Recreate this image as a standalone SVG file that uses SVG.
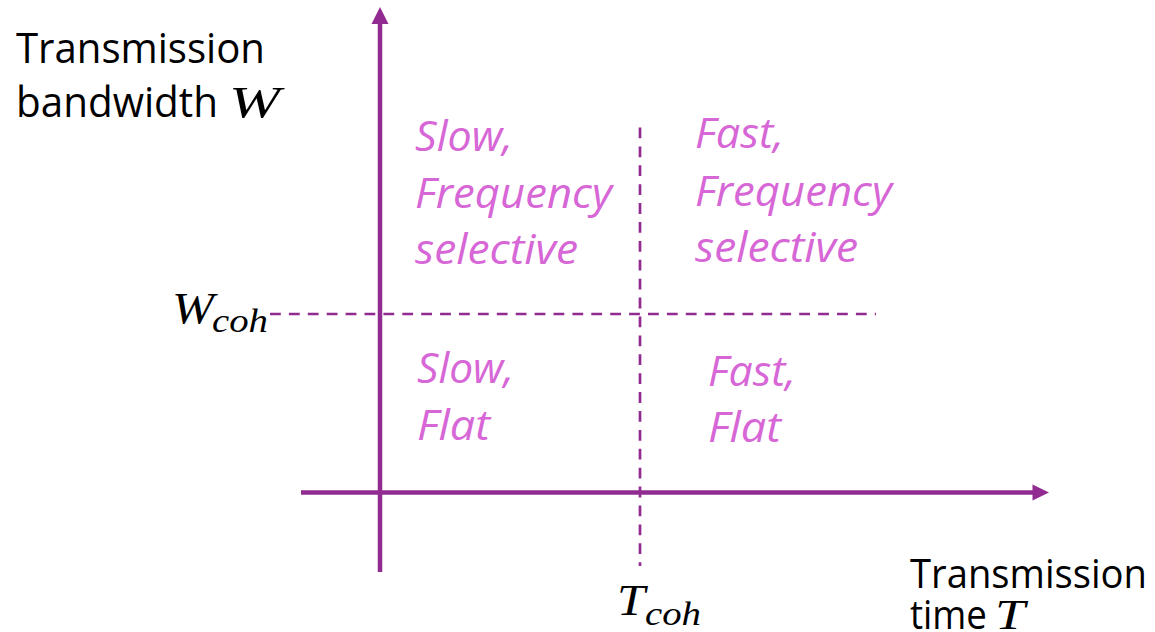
<svg xmlns="http://www.w3.org/2000/svg" width="1155" height="632" viewBox="0 0 1155 632">
<style>
.lbl{font-family:"Open Sans","Liberation Sans",sans-serif;fill:#000;}
.q{font-family:"Open Sans","Liberation Sans",sans-serif;font-style:italic;fill:#D766D6;font-size:42px;}
.m{font-family:"Liberation Serif","DejaVu Serif",serif;font-style:italic;fill:#000;}
.axis{stroke:#922B91;stroke-width:4.5;fill:none;}
.dash{stroke:#922B91;stroke-width:2.7;fill:none;stroke-dasharray:10.8 8.1;}
.head{fill:#922B91;}
</style>
<rect width="1155" height="632" fill="#fff"/>
<g id="connectors">
  <line class="dash" x1="270" y1="314" x2="876" y2="314"/>
  <line class="dash" x1="640" y1="127.5" x2="640" y2="566"/>
  <line class="axis" x1="380" y1="572" x2="380" y2="20"/>
  <polygon class="head" points="380,7 388.5,24 371.5,24"/>
  <line class="axis" x1="301" y1="492.5" x2="1036" y2="492.5"/>
  <polygon class="head" points="1049,492.5 1032.5,484.5 1032.5,500.5"/>
</g>
<g id="y-axis-label">
  <text class="lbl" x="16" y="63" font-size="42" textLength="249" lengthAdjust="spacingAndGlyphs">Transmission</text>
  <text class="lbl" x="16" y="117" font-size="42" textLength="202" lengthAdjust="spacingAndGlyphs">bandwidth</text>
  <text class="m" x="229" y="117" font-size="44" textLength="51" lengthAdjust="spacingAndGlyphs">W</text>
</g>
<g id="x-axis-label">
  <text class="lbl" x="910" y="588" font-size="40" textLength="237" lengthAdjust="spacingAndGlyphs">Transmission</text>
  <text class="lbl" x="910" y="629" font-size="40" textLength="77" lengthAdjust="spacingAndGlyphs">time</text>
  <text class="m" x="995" y="629" font-size="42" textLength="30" lengthAdjust="spacingAndGlyphs">T</text>
</g>
<g id="w-coh">
  <text class="m" x="172" y="323" font-size="44" textLength="42" lengthAdjust="spacingAndGlyphs">W</text>
  <text class="m" x="212" y="332" font-size="34" textLength="56" lengthAdjust="spacingAndGlyphs">coh</text>
</g>
<g id="t-coh">
  <text class="m" x="617" y="615" font-size="44" textLength="28" lengthAdjust="spacingAndGlyphs">T</text>
  <text class="m" x="645" y="625" font-size="34" textLength="56" lengthAdjust="spacingAndGlyphs">coh</text>
</g>
<g id="slow-selective">
  <text class="q" x="415" y="151" textLength="98" lengthAdjust="spacingAndGlyphs">Slow,</text>
  <text class="q" x="415" y="208" textLength="197" lengthAdjust="spacingAndGlyphs">Frequency</text>
  <text class="q" x="415" y="264" textLength="163" lengthAdjust="spacingAndGlyphs">selective</text>
</g>
<g id="fast-selective">
  <text class="q" x="695" y="148" textLength="89" lengthAdjust="spacingAndGlyphs">Fast,</text>
  <text class="q" x="695" y="206" textLength="197" lengthAdjust="spacingAndGlyphs">Frequency</text>
  <text class="q" x="695" y="262" textLength="163" lengthAdjust="spacingAndGlyphs">selective</text>
</g>
<g id="slow-flat">
  <text class="q" x="417" y="383" textLength="97" lengthAdjust="spacingAndGlyphs">Slow,</text>
  <text class="q" x="417" y="440" textLength="73" lengthAdjust="spacingAndGlyphs">Flat</text>
</g>
<g id="fast-flat">
  <text class="q" x="708" y="386" textLength="88" lengthAdjust="spacingAndGlyphs">Fast,</text>
  <text class="q" x="708" y="442" textLength="73" lengthAdjust="spacingAndGlyphs">Flat</text>
</g>
</svg>
